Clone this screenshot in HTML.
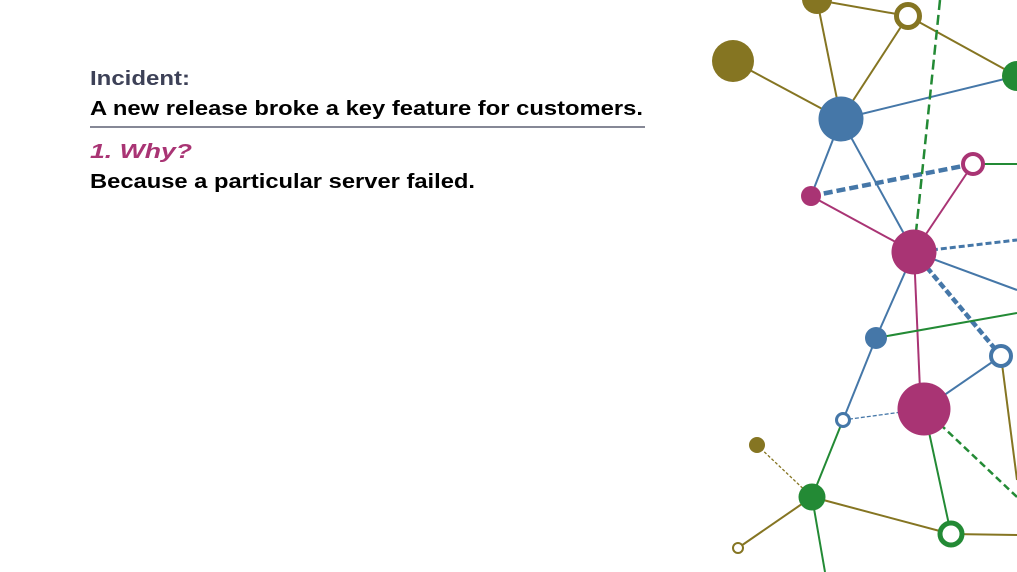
<!DOCTYPE html>
<html><head><style>html,body{margin:0;padding:0;background:#fff;overflow:hidden}svg{display:block}</style></head>
<body>
<svg width="1017" height="572" viewBox="0 0 1017 572" xmlns="http://www.w3.org/2000/svg" font-family="Liberation Sans, sans-serif" font-weight="bold">
<text x="90" y="85" font-size="20" fill="#3d4157" textLength="100" lengthAdjust="spacingAndGlyphs">Incident:</text>
<text x="90" y="115" font-size="20" fill="#000" textLength="553" lengthAdjust="spacingAndGlyphs">A new release broke a key feature for customers.</text>
<line x1="90" y1="127" x2="645" y2="127" stroke="#3d4157" stroke-width="1.3"/>
<text x="90" y="158" font-size="20" fill="#a93474" font-style="italic" textLength="102" lengthAdjust="spacingAndGlyphs">1. Why?</text>
<text x="90" y="188" font-size="20" fill="#000" textLength="385" lengthAdjust="spacingAndGlyphs">Because a particular server failed.</text>

<g fill="none" stroke-width="2">
<!-- olive -->
<g stroke="#857522">
<line x1="817" y1="0" x2="908" y2="16"/>
<line x1="817" y1="0" x2="841" y2="119"/>
<line x1="908" y1="16" x2="841" y2="119"/>
<line x1="908" y1="16" x2="1017" y2="76"/>
<line x1="733" y1="61" x2="841" y2="119"/>
<line x1="1001" y1="356" x2="1017" y2="480"/>
<line x1="812" y1="497" x2="951" y2="534"/>
<line x1="951" y1="534" x2="1017" y2="535"/>
<line x1="812" y1="497" x2="738" y2="548"/>
<line x1="757" y1="445" x2="812" y2="497" stroke-width="1.3" stroke-dasharray="3 2"/>
</g>
<!-- blue -->
<g stroke="#4577a8">
<line x1="841" y1="119" x2="1017" y2="76"/>
<line x1="841" y1="119" x2="811" y2="196"/>
<line x1="841" y1="119" x2="914" y2="252"/>
<line x1="914" y1="252" x2="1017" y2="290"/>
<line x1="914" y1="252" x2="876" y2="338"/>
<line x1="1001" y1="356" x2="924" y2="409"/>
<line x1="876" y1="338" x2="843" y2="420"/>
<line x1="811" y1="196" x2="973" y2="164" stroke-width="4.5" stroke-dasharray="9 4"/>
<line x1="914" y1="252" x2="1017" y2="240" stroke-width="3" stroke-dasharray="6 3"/>
<line x1="914" y1="252" x2="1001" y2="356" stroke-width="4.5" stroke-dasharray="7 3"/>
<line x1="843" y1="420" x2="924" y2="409" stroke-width="1.3" stroke-dasharray="4 2"/>
</g>
<!-- pink -->
<g stroke="#a93474">
<line x1="973" y1="164" x2="914" y2="252"/>
<line x1="811" y1="196" x2="914" y2="252"/>
<line x1="914" y1="252" x2="920" y2="390"/>
</g>
<!-- green -->
<g stroke="#238a35">
<line x1="940" y1="0" x2="916" y2="232" stroke-width="2.5" stroke-dasharray="10 5"/>
<line x1="973" y1="164" x2="1017" y2="164"/>
<line x1="876" y1="338" x2="1017" y2="313"/>
<line x1="843" y1="420" x2="812" y2="497"/>
<line x1="924" y1="409" x2="951" y2="534"/>
<line x1="924" y1="409" x2="1017" y2="497" stroke-width="2.5" stroke-dasharray="7 4"/>
<line x1="812" y1="497" x2="825" y2="572"/>
</g>
</g>

<!-- nodes -->
<circle cx="817" cy="-1" r="15" fill="#857522"/>
<circle cx="908" cy="16" r="11.5" fill="#fff" stroke="#857522" stroke-width="5"/>
<circle cx="733" cy="61" r="21" fill="#857522"/>
<circle cx="1017" cy="76" r="15" fill="#238a35"/>
<circle cx="841" cy="119" r="22.5" fill="#4577a8"/>
<circle cx="973" cy="164" r="10" fill="#fff" stroke="#a93474" stroke-width="4"/>
<circle cx="811" cy="196" r="10" fill="#a93474"/>
<circle cx="914" cy="252" r="22.5" fill="#a93474"/>
<circle cx="876" cy="338" r="11" fill="#4577a8"/>
<circle cx="1001" cy="356" r="10" fill="#fff" stroke="#4577a8" stroke-width="4"/>
<circle cx="924" cy="409" r="26.5" fill="#a93474"/>
<circle cx="843" cy="420" r="6.5" fill="#fff" stroke="#4577a8" stroke-width="3"/>
<circle cx="757" cy="445" r="8" fill="#857522"/>
<circle cx="812" cy="497" r="13.5" fill="#238a35"/>
<circle cx="951" cy="534" r="11" fill="#fff" stroke="#238a35" stroke-width="5"/>
<circle cx="738" cy="548" r="5" fill="#fff" stroke="#857522" stroke-width="2"/>
</svg>
</body></html>
